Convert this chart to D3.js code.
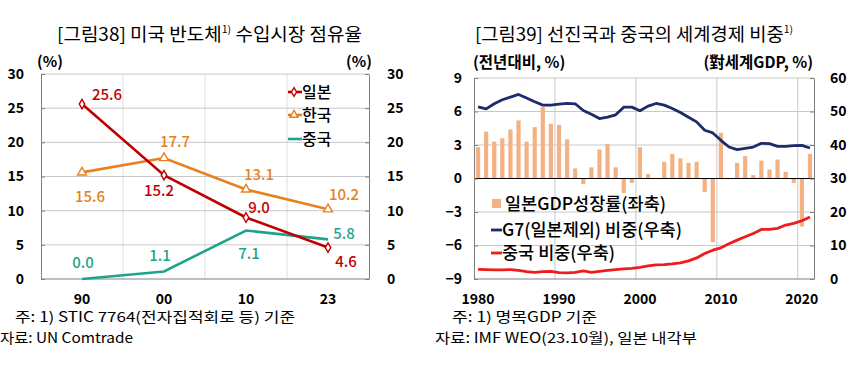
<!DOCTYPE html>
<html>
<head>
<meta charset="utf-8">
<script src="https://cdn.jsdelivr.net/npm/d3@7"></script>
<style>
  body { margin: 0; background: #fff; }
  svg { display: block; font-family: "Noto Sans CJK KR", "Noto Sans", sans-serif; }
</style>
</head>
<body>
<svg id="chart" width="860" height="372"></svg>
<script>
// [그림38] 미국 반도체 수입시장 점유율
const shareYears = ["90", "00", "10", "23"]
const japanShare = [25.6, 15.2, 9.0, 4.6]
const koreaShare = [15.6, 17.7, 13.1, 10.2]
const chinaShare = [0.0, 1.1, 7.1, 5.8]
const shareTicks = [0, 5, 10, 15, 20, 25, 30]

// [그림39] 선진국과 중국의 세계경제 비중
const gdpYears = [1980, 1981, 1982, 1983, 1984, 1985, 1986, 1987, 1988, 1989,
                  1990, 1991, 1992, 1993, 1994, 1995, 1996, 1997, 1998, 1999,
                  2000, 2001, 2002, 2003, 2004, 2005, 2006, 2007, 2008, 2009,
                  2010, 2011, 2012, 2013, 2014, 2015, 2016, 2017, 2018, 2019,
                  2020, 2021]
const japanGrowth = [2.8, 4.2, 3.3, 3.6, 4.4, 5.2, 3.3, 4.6, 6.4, 4.9,
                     4.8, 3.5, 0.9, -0.5, 1.0, 2.6, 3.1, 1.0, -1.3, -0.4,
                     2.8, 0.4, 0.0, 1.5, 2.2, 1.8, 1.4, 1.5, -1.2, -5.7,
                     4.1, 0.0, 1.4, 2.0, 0.3, 1.6, 0.8, 1.7, 0.6, -0.4,
                     -4.3, 2.2]
const g7Weight = [51.4, 50.8, 52.3, 53.5, 54.3, 55.1, 54.0, 52.9, 51.9, 51.9,
                  52.2, 52.4, 52.3, 50.3, 49.2, 47.9, 48.3, 49.0, 51.3, 51.3,
                  50.2, 51.6, 52.4, 51.9, 50.9, 49.7, 48.3, 46.9, 44.4, 43.6,
                  41.4, 39.4, 38.6, 39.0, 39.4, 40.5, 40.4, 39.6, 39.6, 39.8,
                  39.9, 39.1]
const chinaWeight = [2.9, 2.8, 2.7, 2.7, 2.8, 2.6, 2.2, 2.0, 2.2, 2.3,
                     1.9, 1.8, 2.0, 2.4, 2.0, 2.3, 2.6, 2.8, 3.0, 3.2,
                     3.5, 3.9, 4.2, 4.3, 4.5, 4.8, 5.4, 6.3, 7.6, 8.6,
                     9.3, 10.5, 11.6, 12.6, 13.6, 14.8, 14.8, 15.1, 16.1, 16.6,
                     17.4, 18.5]
const growthTicks = [-9, -6, -3, 0, 3, 6, 9]
const weightTicks = [0, 10, 20, 30, 40, 50, 60]
const yearLabels = [1980, 1990, 2000, 2010, 2020]

const C = {
    japan: "#c00000",
    korea: "#e8801e",
    chinaL: "#1fa38a",
    bar: "#f4b183",
    g7: "#1b2b6b",
    chinaR: "#ee1c1c",
    grid: "#c8c8c8",
    vgrid: "#dedede",
    axis: "#808080"
}

const svg = d3.select("#chart")

function styleAxis(g) {
    g.select(".domain").attr("stroke", C.axis)
    g.selectAll(".tick line").attr("stroke", C.axis)
    g.selectAll(".tick text")
        .attr("fill", "#000")
        .attr("font-size", 14)
        .attr("font-weight", "bold")
        .attr("font-family", "'Noto Sans CJK KR', 'Noto Sans', sans-serif")
}

function supTitle(x, y, len, before, after) {
    let t = svg.append("text")
        .attr("x", x).attr("y", y)
        .attr("font-size", 18)
        .attr("fill", "#000")
        .attr("textLength", len)
        .attr("lengthAdjust", "spacingAndGlyphs")
    t.append("tspan").text(before)
    t.append("tspan").attr("font-size", 10).attr("dy", -8).text("1)")
    if (after) t.append("tspan").attr("dy", 8).text(after)
}

function note(x, y, len, str) {
    svg.append("text").attr("x", x).attr("y", y)
        .attr("font-size", 14)
        .attr("textLength", len)
        .attr("lengthAdjust", "spacingAndGlyphs")
        .text(str)
}

// ---------------- left chart ----------------
function drawShareChart() {
    const L = {left: 41, right: 369, top: 74, bottom: 279}

    const x = d3.scaleBand().domain(shareYears).range([L.left, L.right])
    const y = d3.scaleLinear().domain([0, 30]).range([L.bottom, L.top])
    const cx = d => x(d) + x.bandwidth() / 2

    supTitle(57, 41, 305, "[그림38] 미국 반도체", " 수입시장 점유율")

    // grid
    svg.append("g").selectAll("line")
        .data(shareYears.slice(1))
        .join("line")
        .attr("x1", d => x(d)).attr("x2", d => x(d))
        .attr("y1", L.top).attr("y2", L.bottom)
        .attr("stroke", C.vgrid)
    svg.append("g").selectAll("line")
        .data(shareTicks)
        .join("line")
        .attr("x1", L.left).attr("x2", L.right)
        .attr("y1", d => y(d)).attr("y2", d => y(d))
        .attr("stroke", d => d === 0 ? C.axis : C.grid)

    svg.append("g")
        .attr("transform", `translate(${L.left},0)`)
        .call(d3.axisLeft(y).tickValues(shareTicks).tickSize(-4).tickSizeOuter(0).tickPadding(17))
        .call(styleAxis)
    svg.append("g")
        .attr("transform", `translate(${L.right},0)`)
        .call(d3.axisRight(y).tickValues(shareTicks).tickSize(-4).tickSizeOuter(0).tickPadding(18))
        .call(styleAxis)
    svg.append("g")
        .attr("transform", `translate(0,${L.bottom})`)
        .call(d3.axisBottom(x).tickSize(0).tickPadding(15))
        .call(g => g.select(".domain").remove())
        .call(styleAxis)

    svg.append("text").attr("x", 50).attr("y", 67).attr("text-anchor", "middle")
        .attr("font-size", 15).attr("font-weight", "bold").text("(%)")
    svg.append("text").attr("x", 359).attr("y", 67).attr("text-anchor", "middle")
        .attr("font-size", 15).attr("font-weight", "bold").text("(%)")

    const line = d3.line()
        .x((d, i) => cx(shareYears[i]))
        .y(d => y(d))

    const series = [
        {name: "중국", values: chinaShare, color: C.chinaL, marker: null,
         offs: [[1, -16], [-4, -16], [3, 23], [16, -6]]},
        {name: "한국", values: koreaShare, color: C.korea, marker: d3.symbolTriangle,
         offs: [[8, 24], [11, -16], [13, -15], [16, -15]]},
        {name: "일본", values: japanShare, color: C.japan, marker: d3.symbolDiamond,
         offs: [[25, -9], [-5, 15], [13, -10], [18, 14]]}
    ]

    series.forEach(s => {
        svg.append("path")
            .datum(s.values)
            .attr("fill", "none")
            .attr("stroke", s.color)
            .attr("stroke-width", 2.6)
            .attr("d", line)
        if (s.marker) {
            svg.append("g").selectAll("path")
                .data(s.values)
                .join("path")
                .attr("transform", (d, i) => `translate(${cx(shareYears[i])},${y(d)})`)
                .attr("d", d3.symbol(s.marker, s.marker === d3.symbolDiamond ? 26 : 34))
                .attr("fill", "#fff")
                .attr("stroke", s.color)
                .attr("stroke-width", 1.4)
        }
    })

    series.forEach(s => {
        svg.append("g").selectAll("text")
            .data(s.values)
            .join("text")
            .attr("x", (d, i) => cx(shareYears[i]) + s.offs[i][0])
            .attr("y", (d, i) => y(d) + s.offs[i][1])
            .attr("dy", "0.36em")
            .attr("text-anchor", "middle")
            .attr("font-size", 15)
            .attr("font-weight", 500)
            .attr("fill", s.color)
            .text(d => d.toFixed(1))
    })

    // legend
    const legend = [series[2], series[1], series[0]]
    const ly = [92, 115, 139]
    legend.forEach((s, i) => {
        let g = svg.append("g").attr("transform", `translate(288,${ly[i]})`)
        g.append("line").attr("x1", 0).attr("x2", 14)
            .attr("stroke", s.color).attr("stroke-width", 2.6)
        if (s.marker) {
            g.append("path")
                .attr("transform", "translate(6,0)")
                .attr("d", d3.symbol(s.marker, s.marker === d3.symbolDiamond ? 22 : 28))
                .attr("fill", "#fff").attr("stroke", s.color).attr("stroke-width", 1.4)
        }
        g.append("text").attr("x", 14).attr("dy", "0.36em")
            .attr("font-size", 16).attr("font-weight", 500).text(s.name)
    })

    note(15, 322, 280, "주: 1) STIC 7764(전자집적회로 등) 기준")
    note(0, 343, 133, "자료: UN Comtrade")
}

// ---------------- right chart ----------------
function drawWeightChart() {
    const R = {left: 474, right: 814, top: 78, bottom: 279}

    const x = d3.scaleBand().domain(gdpYears).range([R.left, R.right])
    const yG = d3.scaleLinear().domain([-9, 9]).range([R.bottom, R.top])
    const yW = d3.scaleLinear().domain([0, 60]).range([R.bottom, R.top])
    const bw = x.bandwidth()
    const cx = d => x(d) + bw / 2

    supTitle(475, 41, 318, "[그림39] 선진국과 중국의 세계경제 비중", null)

    svg.append("g").selectAll("line")
        .data(yearLabels.slice(1))
        .join("line")
        .attr("x1", d => x(d)).attr("x2", d => x(d))
        .attr("y1", R.top).attr("y2", R.bottom)
        .attr("stroke", C.grid)
    svg.append("g").selectAll("line")
        .data(growthTicks.filter(d => d !== 0))
        .join("line")
        .attr("x1", R.left).attr("x2", R.right)
        .attr("y1", d => yG(d)).attr("y2", d => yG(d))
        .attr("stroke", d => d === -9 ? C.axis : C.grid)

    // bars
    svg.append("g").selectAll("rect")
        .data(japanGrowth)
        .join("rect")
        .attr("x", (d, i) => x(gdpYears[i]) + bw * 0.24)
        .attr("width", bw * 0.52)
        .attr("y", d => yG(Math.max(d, 0)))
        .attr("height", d => Math.abs(yG(d) - yG(0)))
        .attr("fill", C.bar)

    svg.append("line")
        .attr("x1", R.left).attr("x2", R.right)
        .attr("y1", yG(0)).attr("y2", yG(0))
        .attr("stroke", "#000")

    const lineW = d3.line()
        .x((d, i) => cx(gdpYears[i]))
        .y(d => yW(d))

    svg.append("path").datum(g7Weight)
        .attr("fill", "none").attr("stroke", C.g7).attr("stroke-width", 2.8)
        .attr("stroke-linejoin", "round")
        .attr("d", lineW)
    svg.append("path").datum(chinaWeight)
        .attr("fill", "none").attr("stroke", C.chinaR).attr("stroke-width", 2.8)
        .attr("stroke-linejoin", "round")
        .attr("d", lineW)

    svg.append("g")
        .attr("transform", `translate(${R.left},0)`)
        .call(d3.axisLeft(yG).tickValues(growthTicks).tickSize(-4).tickSizeOuter(0).tickPadding(12))
        .call(styleAxis)
    svg.append("g")
        .attr("transform", `translate(${R.right},0)`)
        .call(d3.axisRight(yW).tickValues(weightTicks).tickSize(-4).tickSizeOuter(0).tickPadding(16))
        .call(styleAxis)
    svg.append("g")
        .attr("transform", `translate(0,${R.bottom})`)
        .call(d3.axisBottom(x).tickValues(yearLabels).tickSize(0).tickPadding(15))
        .call(g => g.select(".domain").remove())
        .call(styleAxis)

    svg.append("text").attr("x", 473).attr("y", 68)
        .attr("font-size", 15.5).attr("font-weight", "bold").text("(전년대비, %)")
    svg.append("text").attr("x", 813).attr("y", 68).attr("text-anchor", "end")
        .attr("font-size", 15.5).attr("font-weight", "bold").text("(對세계GDP, %)")

    // legend
    let lg = svg.append("g").attr("transform", "translate(491,0)")
    lg.append("rect").attr("x", 1).attr("y", 199).attr("width", 9).attr("height", 9).attr("fill", C.bar)
    lg.append("text").attr("x", 14).attr("y", 204).attr("dy", "0.36em")
        .attr("font-size", 17.5).attr("font-weight", 500).text("일본GDP성장률(좌축)")
    lg.append("line").attr("x1", 0).attr("x2", 11).attr("y1", 230).attr("y2", 230)
        .attr("stroke", C.g7).attr("stroke-width", 2.8)
    lg.append("text").attr("x", 11).attr("y", 230).attr("dy", "0.36em")
        .attr("font-size", 17.5).attr("font-weight", 500).text("G7(일본제외) 비중(우축)")
    lg.append("line").attr("x1", 0).attr("x2", 11).attr("y1", 253).attr("y2", 253)
        .attr("stroke", C.chinaR).attr("stroke-width", 2.8)
    lg.append("text").attr("x", 11).attr("y", 253).attr("dy", "0.36em")
        .attr("font-size", 17.5).attr("font-weight", 500).text("중국 비중(우축)")

    note(452, 322, 145, "주: 1) 명목GDP 기준")
    note(435, 343, 262, "자료: IMF WEO(23.10월), 일본 내각부")
}

drawShareChart()
drawWeightChart()
</script>
</body>
</html>
